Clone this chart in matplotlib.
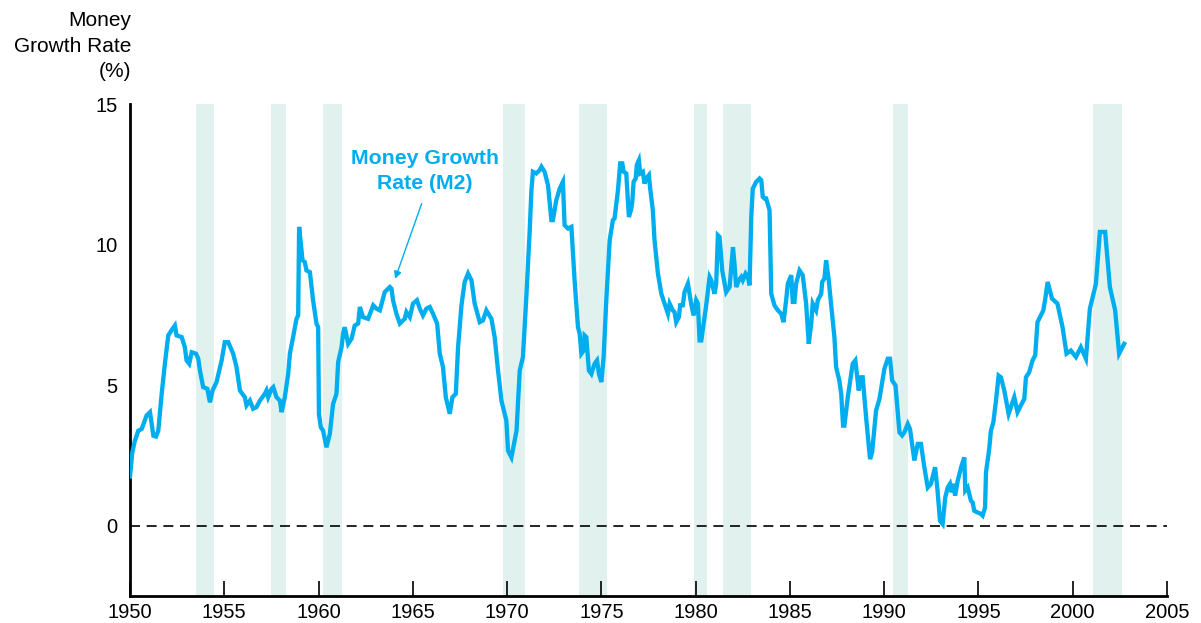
import numpy as np
import matplotlib.pyplot as plt

plt.rcParams['font.family'] = ['Liberation Sans', 'DejaVu Sans']

# --- data ---
years = [
    1950.00, 1950.12, 1950.25, 1950.44, 1950.62, 1950.88, 1951.06, 1951.24, 1951.38, 1951.50,
    1951.68, 1951.85, 1952.03, 1952.20, 1952.38, 1952.47, 1952.74, 1952.91, 1953.00, 1953.14,
    1953.27, 1953.50, 1953.62, 1953.71, 1953.88, 1954.10, 1954.24, 1954.38, 1954.59, 1954.86,
    1955.03, 1955.21, 1955.47, 1955.65, 1955.83, 1956.09, 1956.18, 1956.36, 1956.53, 1956.71,
    1956.89, 1957.15, 1957.24, 1957.33, 1957.51, 1957.60, 1957.77, 1957.95, 1958.04, 1958.21,
    1958.39, 1958.48, 1958.65, 1958.83, 1958.92, 1958.97, 1959.15, 1959.27, 1959.36, 1959.54,
    1959.71, 1959.89, 1959.98, 1960.02, 1960.12, 1960.24, 1960.42, 1960.60, 1960.77, 1960.95,
    1961.04, 1961.22, 1961.30, 1961.39, 1961.57, 1961.75, 1961.92, 1962.10, 1962.19, 1962.36,
    1962.63, 1962.90, 1963.07, 1963.25, 1963.51, 1963.78, 1963.87, 1963.95, 1964.13, 1964.31,
    1964.57, 1964.66, 1964.84, 1965.01, 1965.22, 1965.37, 1965.54, 1965.72, 1965.90, 1966.07,
    1966.29, 1966.43, 1966.60, 1966.75, 1966.96, 1967.10, 1967.28, 1967.40, 1967.58, 1967.75,
    1967.93, 1968.11, 1968.28, 1968.55, 1968.72, 1968.90, 1969.17, 1969.34, 1969.52, 1969.70,
    1969.96, 1970.05, 1970.23, 1970.50, 1970.67, 1970.84, 1971.02, 1971.20, 1971.29, 1971.37,
    1971.55, 1971.73, 1971.82, 1971.99, 1972.17, 1972.35, 1972.43, 1972.61, 1972.79, 1972.96,
    1973.05, 1973.23, 1973.41, 1973.58, 1973.76, 1973.85, 1973.94, 1974.06, 1974.11, 1974.20,
    1974.34, 1974.47, 1974.64, 1974.77, 1974.87, 1975.00, 1975.12, 1975.26, 1975.44, 1975.61,
    1975.70, 1975.88, 1976.00, 1976.11, 1976.18, 1976.32, 1976.46, 1976.59, 1976.64, 1976.71,
    1976.82, 1976.88, 1976.99, 1977.06, 1977.20, 1977.29, 1977.38, 1977.52, 1977.59, 1977.73,
    1977.82, 1978.00, 1978.18, 1978.35, 1978.53, 1978.62, 1978.79, 1978.88, 1978.97, 1979.11,
    1979.18, 1979.32, 1979.41, 1979.59, 1979.76, 1979.89, 1980.03, 1980.12, 1980.21, 1980.30,
    1980.47, 1980.56, 1980.74, 1980.83, 1981.00, 1981.09, 1981.18, 1981.27, 1981.41, 1981.54,
    1981.62, 1981.80, 1981.98, 1982.06, 1982.15, 1982.29, 1982.42, 1982.50, 1982.65, 1982.77,
    1982.86, 1982.95, 1983.03, 1983.21, 1983.39, 1983.48, 1983.56, 1983.65, 1983.74, 1983.92,
    1984.01, 1984.18, 1984.36, 1984.54, 1984.66, 1984.80, 1984.89, 1985.07, 1985.15, 1985.24,
    1985.33, 1985.51, 1985.68, 1985.86, 1986.00, 1986.13, 1986.21, 1986.39, 1986.48, 1986.66,
    1986.71, 1986.83, 1986.92, 1987.06, 1987.18, 1987.36, 1987.45, 1987.62, 1987.72, 1987.82,
    1987.89, 1988.07, 1988.33, 1988.47, 1988.65, 1988.78, 1988.86, 1989.04, 1989.25, 1989.36,
    1989.57, 1989.75, 1990.01, 1990.19, 1990.31, 1990.42, 1990.60, 1990.81, 1990.95, 1991.07,
    1991.25, 1991.37, 1991.60, 1991.78, 1991.95, 1992.13, 1992.31, 1992.48, 1992.70, 1992.83,
    1992.96, 1993.10, 1993.24, 1993.37, 1993.49, 1993.58, 1993.67, 1993.76, 1993.90, 1994.08,
    1994.25, 1994.30, 1994.43, 1994.60, 1994.69, 1994.78, 1994.96, 1995.13, 1995.22, 1995.35,
    1995.40, 1995.57, 1995.66, 1995.79, 1995.93, 1996.07, 1996.19, 1996.37, 1996.60, 1996.72,
    1996.90, 1997.07, 1997.25, 1997.43, 1997.52, 1997.69, 1997.87, 1998.01, 1998.13, 1998.31,
    1998.44, 1998.55, 1998.67, 1998.90, 1999.19, 1999.46, 1999.67, 1999.90, 2000.17, 2000.43,
    2000.70, 2000.91, 2001.23, 2001.44, 2001.72, 2001.97, 2002.25, 2002.46, 2002.73,
]
m2_growth = [
    1.75, 2.60, 3.00, 3.38, 3.44, 3.92, 4.04, 3.20, 3.17, 3.38,
    4.69, 5.76, 6.77, 6.95, 7.12, 6.77, 6.71, 6.35, 5.88, 5.76,
    6.17, 6.12, 5.94, 5.52, 4.93, 4.87, 4.39, 4.81, 5.11, 5.88,
    6.53, 6.53, 6.12, 5.64, 4.81, 4.57, 4.28, 4.45, 4.16, 4.22,
    4.45, 4.69, 4.81, 4.57, 4.87, 4.93, 4.57, 4.45, 4.04, 4.57,
    5.40, 6.12, 6.71, 7.36, 7.48, 10.63, 9.44, 9.38, 9.08, 9.02,
    8.02, 7.19, 7.06, 3.98, 3.50, 3.38, 2.79, 3.27, 4.33, 4.69,
    5.82, 6.35, 6.83, 7.06, 6.47, 6.65, 7.12, 7.19, 7.78, 7.42,
    7.36, 7.84, 7.72, 7.66, 8.31, 8.49, 8.43, 8.02, 7.54, 7.19,
    7.36, 7.60, 7.42, 7.90, 8.02, 7.72, 7.48, 7.72, 7.78, 7.54,
    7.19, 6.12, 5.64, 4.57, 3.98, 4.57, 4.69, 6.35, 7.84, 8.67,
    8.97, 8.73, 7.90, 7.24, 7.30, 7.66, 7.36, 6.71, 5.52, 4.45,
    3.74, 2.67, 2.43, 3.38, 5.52, 6.00, 8.13, 10.51, 11.93, 12.59,
    12.53, 12.65, 12.77, 12.59, 12.11, 10.87, 10.87, 11.58, 11.99, 12.23,
    10.69, 10.57, 10.63, 8.73, 7.06, 6.83, 6.12, 6.23, 6.77, 6.71,
    5.52, 5.40, 5.76, 5.88, 5.40, 5.11, 6.00, 8.00, 10.15, 10.87,
    10.93, 11.93, 12.89, 12.89, 12.59, 12.53, 10.98, 11.28, 11.52, 12.23,
    12.35, 12.83, 13.00, 12.53, 12.59, 12.17, 12.35, 12.47, 11.99, 11.22,
    10.15, 8.97, 8.25, 7.90, 7.54, 7.90, 7.66, 7.60, 7.24, 7.42,
    7.84, 7.84, 8.31, 8.61, 7.90, 7.48, 8.02, 7.90, 6.59, 6.59,
    7.42, 7.84, 8.85, 8.73, 8.25, 8.61, 10.33, 10.27, 9.08, 8.61,
    8.31, 8.49, 9.91, 9.32, 8.49, 8.73, 8.85, 8.73, 8.97, 8.85,
    8.55, 10.98, 11.99, 12.23, 12.35, 12.29, 11.70, 11.64, 11.64, 11.22,
    8.25, 7.84, 7.66, 7.54, 7.24, 8.02, 8.61, 8.91, 7.96, 7.96,
    8.61, 9.08, 8.91, 7.90, 6.47, 7.19, 7.90, 7.66, 8.02, 8.25,
    8.67, 8.79, 9.44, 8.73, 7.90, 6.71, 5.64, 5.17, 4.70, 3.56,
    3.56, 4.57, 5.76, 5.88, 4.81, 5.28, 5.28, 3.86, 2.37, 2.61,
    4.10, 4.51, 5.58, 5.94, 5.94, 5.17, 4.99, 3.32, 3.21, 3.32,
    3.62, 3.44, 2.32, 2.91, 2.91, 2.08, 1.36, 1.49, 2.08, 1.25,
    0.18, 0.06, 1.01, 1.36, 1.49, 1.19, 1.49, 1.07, 1.60, 2.08,
    2.43, 1.25, 1.36, 0.89, 0.83, 0.53, 0.47, 0.42, 0.36, 0.65,
    1.90, 2.73, 3.38, 3.68, 4.45, 5.34, 5.28, 4.81, 3.98, 4.22,
    4.57, 4.04, 4.28, 4.51, 5.28, 5.46, 5.88, 6.06, 7.24, 7.48,
    7.66, 8.10, 8.67, 8.08, 7.90, 7.06, 6.12, 6.23, 6.00, 6.35,
    5.94, 7.72, 8.61, 10.45, 10.45, 8.49, 7.66, 6.12, 6.47,
]

# recession periods (shaded)
rec_start = [1953.51, 1957.47, 1960.26, 1969.80, 1973.83, 1979.90, 1981.46, 1990.47, 2001.10]
rec_end = [1954.47, 1958.28, 1961.25, 1970.95, 1975.32, 1980.61, 1982.93, 1991.26, 2002.62]

x_ticks = [1950, 1955, 1960, 1965, 1970, 1975, 1980, 1985, 1990, 1995, 2000, 2005]
y_ticks = [0, 5, 10, 15]

line_color = '#00AEEF'
band_color = '#E1F2EE'

fig = plt.figure(figsize=(12.01, 6.23), dpi=100)
ax = fig.add_axes([130 / 1201, 27 / 623, 1037 / 1201, 492 / 623])

for s, e in zip(rec_start, rec_end):
    ax.axvspan(s, e, color=band_color, lw=0, zorder=0)

ax.axhline(0, color='black', lw=1.2, ls=(0, (6, 4)), zorder=1)
ax.plot(years, m2_growth, color=line_color, lw=3.1, solid_joinstyle='miter', zorder=3)

# annotation
ax.text(1965.65, 12.62, 'Money Growth\nRate (M2)', ha='center', va='center',
        color=line_color, fontsize=15.3, fontweight='bold', linespacing=1.4)
ax.annotate('', xy=(1964.06, 8.78), xytext=(1965.47, 11.46),
            arrowprops=dict(arrowstyle='-|>', color=line_color, lw=1.0,
                            mutation_scale=11, shrinkA=0, shrinkB=0))

ax.set_xlim(1950, 2005)
ax.set_ylim(-2.5, 15)
ax.set_xticks(x_ticks)
ax.set_yticks(y_ticks)

for side in ['top', 'right']:
    ax.spines[side].set_visible(False)
for side in ['left', 'bottom']:
    ax.spines[side].set_linewidth(2.0)

ax.tick_params(axis='x', direction='in', length=11, width=1.2, pad=5, labelsize=14.5)
ax.tick_params(axis='y', direction='in', length=0, pad=9, labelsize=14.5)

fig.text(131 / 1201, 1 - 46 / 623, 'Money\nGrowth Rate\n(%)', ha='right', va='center',
         fontsize=15, linespacing=1.45)

fig.savefig('out.png', dpi=100)
